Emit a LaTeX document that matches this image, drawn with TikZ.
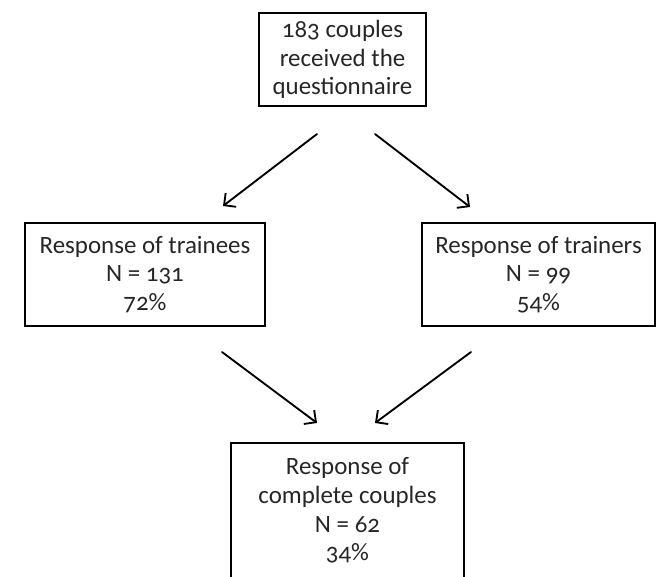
\documentclass[tikz,border=0pt]{standalone}
\usepackage{fontspec}
\setmainfont{Carlito}[Numbers=OldStyle]
\usetikzlibrary{arrows.meta}
\begin{document}
\begin{tikzpicture}[x=0.75pt,y=-0.75pt,
  box/.style={draw=black, line width=1.3pt, align=center, inner sep=0pt,
    font=\fontsize{18.7}{21.6}\selectfont, text=black!85},
  flow/.style={line width=1.4pt, line cap=round,
    -{Straight Barb[length=6.5pt,width=13pt,line width=1.4pt]}}]
\useasboundingbox (0,0) rectangle (659,576);
\clip (0,0) rectangle (659,576);

% boxes
\node[box, minimum width=125.25pt, minimum height=69.75pt] (start) at (342.5,59.4)
  {183 couples\\received the\\questionnaire};
\node[box, minimum width=180pt, minimum height=77.25pt] (trainees) at (145,274.5)
  {Response of trainees\\N = 131\\72\%};
\node[box, minimum width=174.75pt, minimum height=77.25pt] (trainers) at (538.5,274.5)
  {Response of trainers\\N = 99\\54\%};
\node[box, minimum width=174.75pt, minimum height=101.25pt] (both) at (347.5,510.5)
  {Response of\\complete couples\\N = 62\\34\%};

% arrow end points
\coordinate (tl0) at (317,134);  \coordinate (tl1) at (223,206);
\coordinate (tr0) at (375,134);  \coordinate (tr1) at (470,207);
\coordinate (bl0) at (222,352);  \coordinate (bl1) at (317,423);
\coordinate (br0) at (471,352);  \coordinate (br1) at (375,423);

\draw[flow] (tl0) -- (tl1);
\draw[flow] (tr0) -- (tr1);
\draw[flow] (bl0) -- (bl1);
\draw[flow] (br0) -- (br1);
\end{tikzpicture}
\end{document}
